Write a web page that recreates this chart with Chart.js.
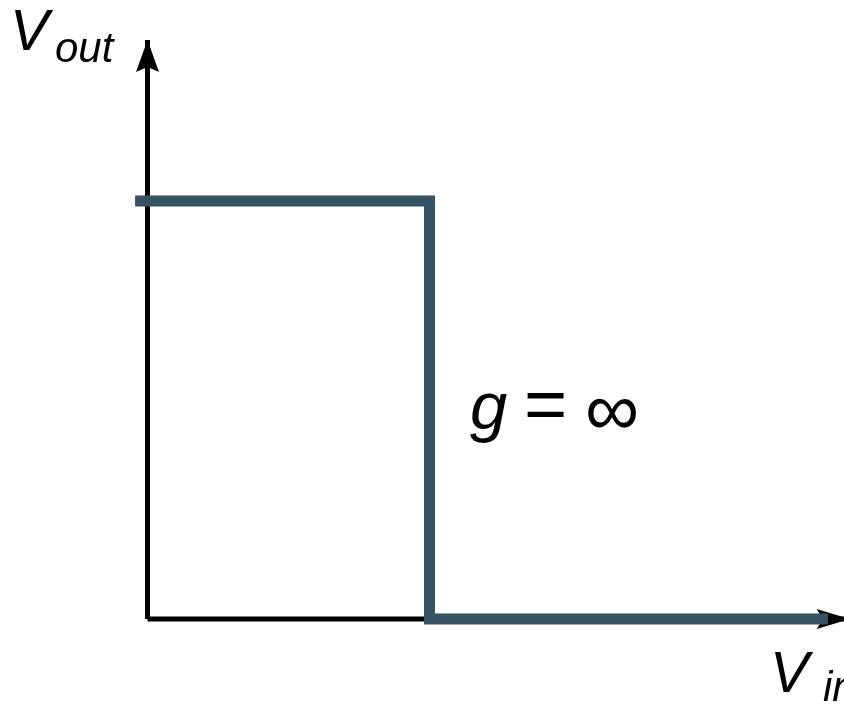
<!DOCTYPE html>
<html>
<head>
<meta charset="utf-8">
<script src="https://cdn.jsdelivr.net/npm/chart.js@4.4.1/dist/chart.umd.min.js"></script>
<style>
  html, body { margin: 0; padding: 0; background: #ffffff; }
  #wrap { width: 844px; height: 709px; }
</style>
</head>
<body>
<div id="wrap"><canvas id="c" width="844" height="709"></canvas></div>
<script>
// Ideal inverter transfer characteristic (gain g = infinity)
const vinValues  = [-0.044, 1, 1, 2.413];   // input voltage (threshold at 1)
const voutValues = [1, 1, 0, 0];            // output voltage (high = 1, low = 0)

// axes (drawn as arrows)
const xAxisX = [0, 2.49];
const xAxisY = [0, 0];
const yAxisX = [0, 0];
const yAxisY = [0, 1.385];

const labels = {
  voutMain: 'V', voutSub: 'out',
  vinMain: 'V', vinSub: 'in',
  gainVar: 'g', gainEq: '=', gainVal: '\u221E'
};

const BLUE = '#355362';
const BLACK = '#000000';

function toPts(xs, ys) { return xs.map((x, i) => ({ x: x, y: ys[i] })); }

const arrowPlugin = {
  id: 'arrows',
  afterDatasetDraw(chart, args) {
    const ds = chart.data.datasets[args.index];
    if (!ds.arrow) return;
    const xs = chart.scales.x, ys = chart.scales.y;
    const d = ds.data;
    const p1 = d[d.length - 2], p2 = d[d.length - 1];
    const x1 = xs.getPixelForValue(p1.x), y1 = ys.getPixelForValue(p1.y);
    const x2 = xs.getPixelForValue(p2.x), y2 = ys.getPixelForValue(p2.y);
    const ang = Math.atan2(y2 - y1, x2 - x1);
    const L = ds.arrow.len, W = ds.arrow.half, N = ds.arrow.notch;
    const ctx = chart.ctx;
    ctx.save();
    ctx.translate(x2, y2);
    ctx.rotate(ang);
    ctx.beginPath();
    ctx.moveTo(0, 0);
    ctx.lineTo(-L, -W);
    ctx.lineTo(-L + N, 0);
    ctx.lineTo(-L, W);
    ctx.closePath();
    ctx.fillStyle = ds.borderColor;
    ctx.fill();
    ctx.restore();
  }
};

const FAM = '"Liberation Sans", Arial, sans-serif';

// draw text so that its ink box starts at (left, top)
function inkTop(ctx, text, font, left, top) {
  ctx.font = font;
  const m = ctx.measureText(text);
  ctx.fillText(text, left + m.actualBoundingBoxLeft, top + m.actualBoundingBoxAscent);
}
// draw text with ink left at `left` and baseline at `base`
function inkBase(ctx, text, font, left, base) {
  ctx.font = font;
  const m = ctx.measureText(text);
  ctx.fillText(text, left + m.actualBoundingBoxLeft, base);
}

const textPlugin = {
  id: 'texts',
  afterDraw(chart) {
    const ctx = chart.ctx;
    const xs = chart.scales.x, ys = chart.scales.y;
    const ox = xs.getPixelForValue(0), oy = ys.getPixelForValue(0);
    const hy = ys.getPixelForValue(1), tx = xs.getPixelForValue(1);
    ctx.save();
    ctx.fillStyle = '#000';
    ctx.textBaseline = 'alphabetic';
    ctx.textAlign = 'left';
    // V_out (top-left, next to the y axis arrow)
    inkTop(ctx, labels.voutMain, 'italic 58px ' + FAM, ox - 132.5, oy - 609);
    inkBase(ctx, labels.voutSub, 'italic 42px ' + FAM, ox - 91.5, oy - 557);
    // V_in (bottom-right, under the x axis arrow)
    inkTop(ctx, labels.vinMain, 'italic 58px ' + FAM, ox + 627.5, oy + 33);
    inkBase(ctx, labels.vinSub, 'italic 42px ' + FAM, ox + 675.5, oy + 82);
    // g = infinity (next to the vertical transition)
    inkTop(ctx, labels.gainVar, 'italic 67px ' + FAM, tx + 40.5, hy + 192);
    inkTop(ctx, labels.gainEq, '74px ' + FAM, tx + 97.5, hy + 192);
    inkTop(ctx, labels.gainVal, '76px ' + FAM, tx + 158.5, hy + 197);
    ctx.restore();
  }
};

new Chart(document.getElementById('c'), {
  type: 'scatter',
  data: {
    datasets: [
      {
        label: 'Vout',
        data: toPts(vinValues, voutValues),
        showLine: true,
        borderColor: BLUE,
        borderWidth: 11,
        borderCapStyle: 'butt',
        borderJoinStyle: 'miter',
        pointRadius: 0,
        tension: 0
      },
      {
        label: 'x axis',
        data: toPts(xAxisX, xAxisY),
        showLine: true,
        borderColor: BLACK,
        borderWidth: 5,
        borderCapStyle: 'butt',
        pointRadius: 0,
        arrow: { len: 33, half: 10, notch: 6 }
      },
      {
        label: 'y axis',
        data: toPts(yAxisX, yAxisY),
        showLine: true,
        borderColor: BLACK,
        borderWidth: 5,
        borderCapStyle: 'butt',
        pointRadius: 0,
        arrow: { len: 32, half: 11.5, notch: 5 }
      }
    ]
  },
  options: {
    responsive: false,
    animation: false,
    devicePixelRatio: 1,
    layout: { padding: 0 },
    plugins: {
      legend: { display: false },
      tooltip: { enabled: false },
      title: { display: false }
    },
    scales: {
      x: { type: 'linear', display: false, min: -0.52305, max: 2.46986 },
      y: { type: 'linear', display: false, min: -0.21531, max: 1.48086 }
    }
  },
  plugins: [arrowPlugin, textPlugin]
});
</script>
</body>
</html>
